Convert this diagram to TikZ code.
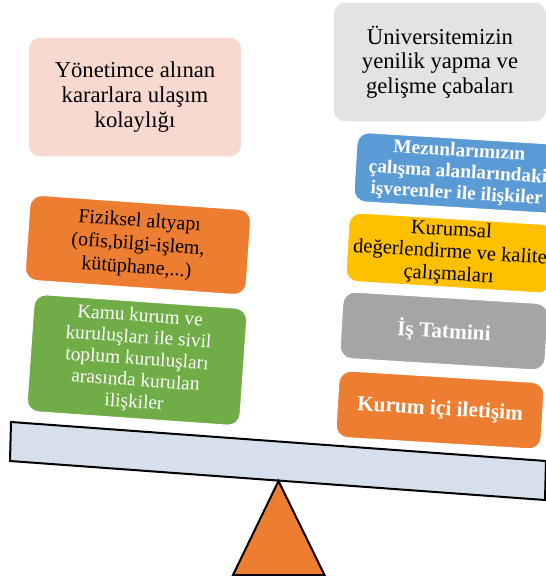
\documentclass[tikz,border=0pt]{standalone}
\usepackage{fontspec}
\setmainfont{Liberation Serif}
\definecolor{softpink}{HTML}{F8D9D0}
\definecolor{softgray}{HTML}{E3E3E3}
\definecolor{officeorange}{HTML}{ED7D31}
\definecolor{officegreen}{HTML}{70AD47}
\definecolor{officeblue}{HTML}{5B9BD5}
\definecolor{officegold}{HTML}{FFC000}
\definecolor{officegray}{HTML}{A5A5A5}
\definecolor{beamblue}{HTML}{D6E0ED}
\begin{document}
\begin{tikzpicture}[x=0.75pt,y=-0.75pt,
   box/.style={rounded corners=9pt, draw=white, line width=0.8pt,
               align=center, inner sep=2pt},
   topbox/.style={box, minimum width=160pt, minimum height=90pt,
               font=\fontsize{17}{18.5}\selectfont},
   leftbox/.style={box, rotate=-4},
   rightbox/.style={box, rotate=-3.5, minimum width=154pt, minimum height=50pt},
   level line/.style={draw=black, line width=1.5pt, line join=miter}]

\useasboundingbox (0,0) rectangle (546,576);
\clip (0,0) rectangle (546,576);

% top row
\node[topbox, fill=softpink] (karar) at (135,97)
   {Yönetimce alınan\\kararlara ulaşım\\kolaylığı};
\node[topbox, fill=softgray] (yenilik) at (440,62)
   {Üniversitemizin\\yenilik yapma ve\\gelişme çabaları};

% left side
\node[leftbox, fill=officeorange, minimum width=166pt, minimum height=64pt,
      font=\fontsize{15}{17.5}\selectfont] (altyapi) at (138,245)
   {Fiziksel altyapı\\(ofis,bilgi-işlem,\\kütüphane,...)};
\node[leftbox, fill=officegreen, text=white, minimum width=160pt, minimum height=88pt,
      font=\fontsize{14.5}{16.2}\selectfont] (kamu) at (137,360)
   {Kamu kurum ve\\kuruluşları ile sivil\\toplum kuruluşları\\arasında kurulan\\ilişkiler};

% right side
\node[rightbox, fill=officeblue, text=white, minimum height=52pt,
      font=\bfseries\fontsize{14.5}{16}\selectfont] (mezun) at (458,173)
   {Mezunlarımızın\\çalışma alanlarındaki\\işverenler ile ilişkiler};
\node[rightbox, fill=officegold,
      font=\fontsize{15.4}{16.8}\selectfont] (kalite) at (450,253)
   {Kurumsal\\değerlendirme ve kalite\\çalışmaları};
\node[rightbox, fill=officegray, text=white,
      font=\bfseries\fontsize{16}{18}\selectfont] (tatmin) at (444,331)
   {İş Tatmini};
\node[rightbox, fill=officeorange, text=white,
      font=\bfseries\fontsize{16}{18}\selectfont] (iletisim) at (440,410)
   {Kurum içi iletişim};

% beam and pivot
\path[level line, fill=beamblue] (11,422) -- (546,461) -- (545,500) -- (10,461) -- cycle;
\path[level line, fill=officeorange] (278.5,481) -- (324.5,575) -- (233,575) -- cycle;

\end{tikzpicture}
\end{document}
